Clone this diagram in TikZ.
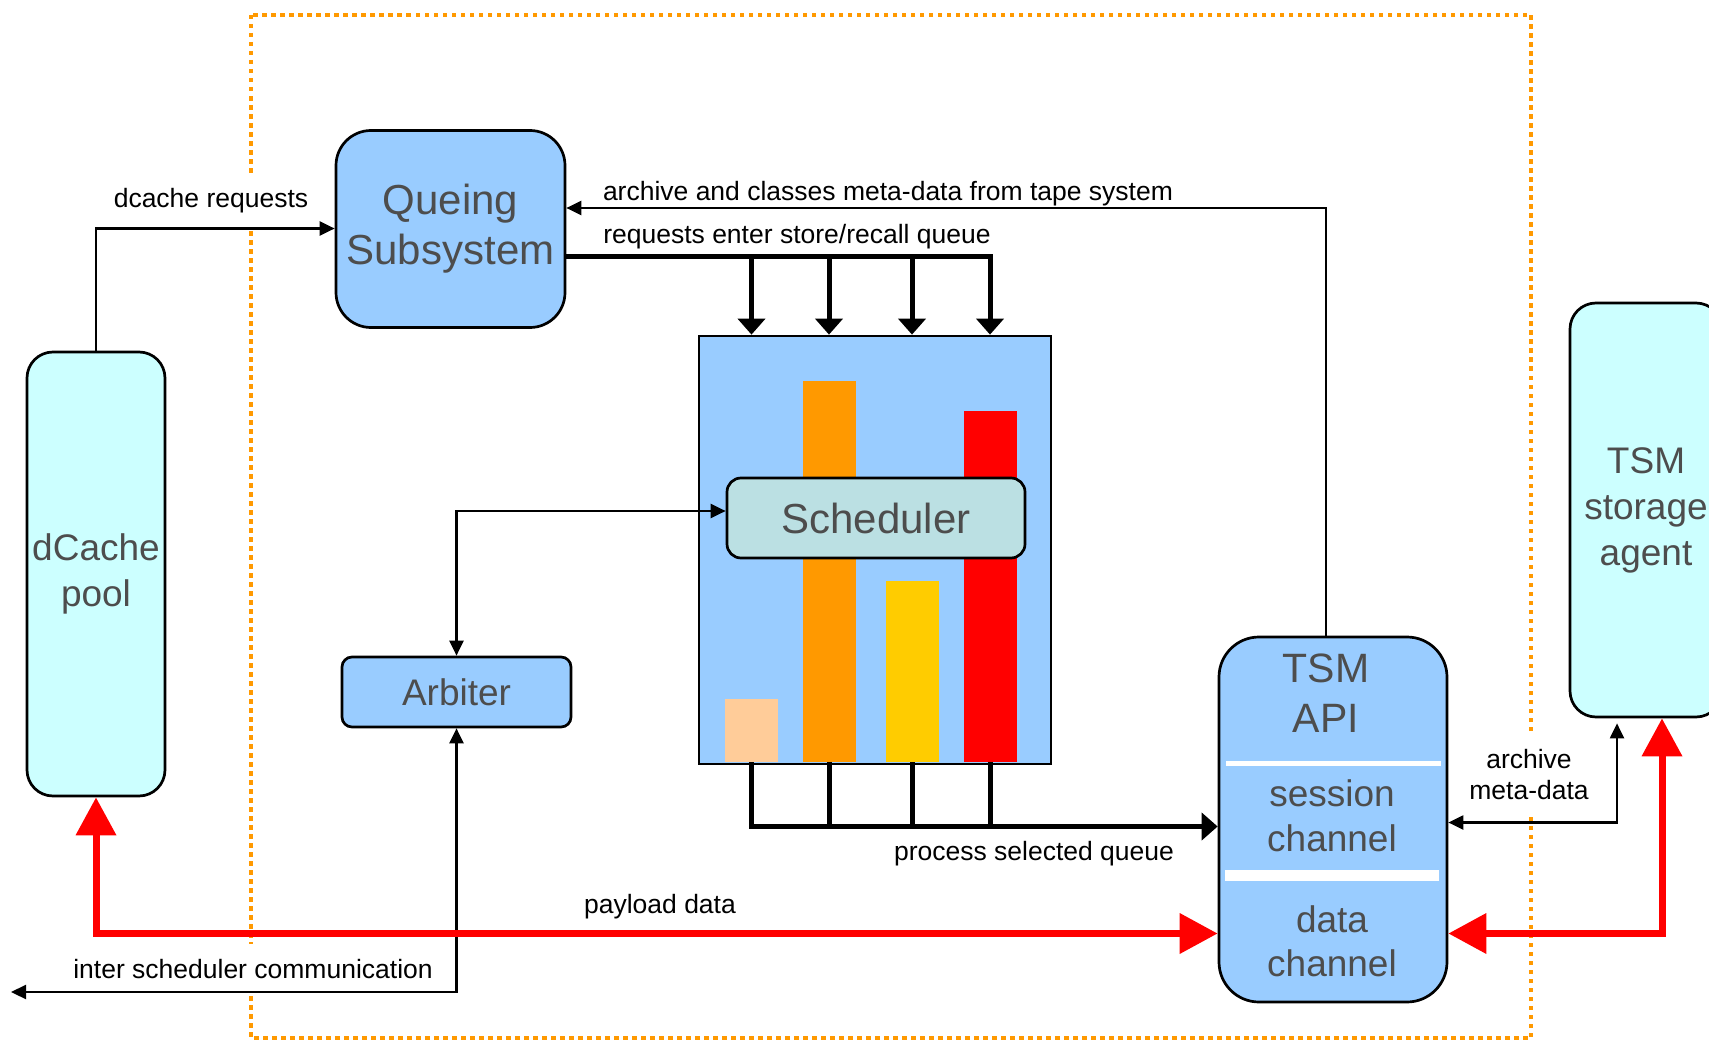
\documentclass[tikz,border=0pt]{standalone}
\usepackage{fontspec}
\setmainfont{Liberation Sans}
\usetikzlibrary{arrows.meta,positioning}
\definecolor{boxblue}{HTML}{99CCFF}
\definecolor{poolcyan}{HTML}{CCFFFF}
\definecolor{schedcyan}{HTML}{BBE0E3}
\definecolor{peach}{HTML}{FFCC99}
\definecolor{amber}{HTML}{FF9900}
\definecolor{gold}{HTML}{FFCC00}
\definecolor{payred}{HTML}{FF0000}
\definecolor{boxtext}{HTML}{4D4D4D}
\newcommand\boxfont{\fontsize{37}{46}\selectfont}
\newcommand\bigboxfont{\fontsize{42}{50}\selectfont}
\newcommand\lblfont{\fontsize{26.5}{31}\selectfont}
\tikzset{
  block/.style={draw, line width=2.7pt, rounded corners=#1, inner sep=0pt, align=center, text=boxtext, font=\boxfont},
  block/.default=20pt,
  boxlabel/.style={align=center, text=boxtext, font=\boxfont},
  bar/.style={inner sep=0pt, minimum width=53pt, anchor=south},
  lbl/.style={font=\lblfont, inner sep=0pt},
  cover/.style={lbl, fill=white, inner xsep=4pt, inner ysep=15pt, align=center},
  flow/.style={line width=2.2pt},
  bus/.style={line width=5pt},
  busarrow/.style={bus, -{Triangle[length=16pt,width=27pt]}},
  payload/.style={line width=7pt, draw=payred, {Triangle[length=38pt,width=39pt]}-{Triangle[length=38pt,width=39pt]}},
  >={Triangle[length=15pt,width=14pt]},
  frame/.style={draw=amber, line width=4.5pt, dash pattern=on 4.5pt off 4.5pt}
}
\begin{document}
\begin{tikzpicture}[x=1pt, y=-1pt]
  \useasboundingbox (0,0) rectangle (1709,1041);
  \draw[frame] (251,15) rectangle (1531,1038);
  \node[cover, anchor=base] (reqlbl) at (211,207) {dcache requests};
  \node[cover, anchor=base] (interlbl) at (253,978) {inter scheduler communication};
  \node[cover] (metalbl) at (1529,775) {archive\\meta-data};

  \node[block=35pt, fill=boxblue, minimum width=229pt, minimum height=197pt, font=\bigboxfont] (queue) at (450.5,229) {Queing\\Subsystem};
  \node[block=26pt, fill=poolcyan, minimum width=138pt, minimum height=444pt] (pool) at (96,574) {dCache\\pool};
  \node[block=26pt, fill=poolcyan, minimum width=152pt, minimum height=414pt] (agent) at (1646,510) {TSM\\storage\\agent};
  \node[draw, line width=2.7pt, fill=boxblue, inner sep=0pt, minimum width=352pt, minimum height=428pt] (sched) at (875,550) {};
  \node[bar, fill=peach, minimum height=63pt] (b1) at (751.5,762) {};
  \node[bar, fill=amber, minimum height=381pt] (b2) at (829,762) {};
  \node[bar, fill=gold, minimum height=181pt] (b3) at (912,762) {};
  \node[bar, fill=payred, minimum height=351pt] (b4) at (990,762) {};
  \node[block=14pt, fill=schedcyan, minimum width=298pt, minimum height=80pt, font=\bigboxfont] (scheduler) at (876,518) {Scheduler};
  \node[block=10pt, fill=boxblue, minimum width=229pt, minimum height=70pt] (arbiter) at (456.5,692) {Arbiter};
  \node[block=40pt, fill=boxblue, minimum width=228pt, minimum height=365pt] (api) at (1333,819.5) {};
  \draw[white, line width=5pt] (1226,763) -- (1441,763);
  \draw[white, line width=11pt] (1225,875) -- (1439,875);
  \node[boxlabel, font=\fontsize{41}{50}\selectfont] (apititle) at (1326,693) {TSM\\API};
  \node[boxlabel, font=\fontsize{37}{45}\selectfont] (session) at (1332,816) {session\\channel};
  \node[boxlabel, font=\fontsize{37}{44}\selectfont] (datach) at (1332,941) {data\\channel};

  \draw[flow, ->] (pool.north) |- ([yshift=0.5pt]queue.west);
  \draw[flow, ->] ([xshift=-7pt]api.north) |- ([yshift=21pt]queue.east);
  \coordinate (feed) at ([yshift=-27pt]queue.east);
  \draw[busarrow] (feed) -| (b4 |- sched.north);
  \foreach \b in {b1,b2,b3}
    \draw[busarrow] (feed -| \b) -- (\b |- sched.north);
  \coordinate (collect) at ([yshift=-7pt]api.west);
  \draw[busarrow] (b1.south) |- (collect);
  \foreach \b in {b2,b3,b4}
    \draw[bus] (\b.south) -- (\b.south |- collect);
  \draw[flow, <->] (arbiter.north) |- ([yshift=7pt]scheduler.west);
  \coordinate (elsewhere) at (11,992);
  \draw[flow, <->] (arbiter.south) |- (elsewhere);
  \draw[payload] (pool.south) |- ([yshift=-114pt]api.west);
  \draw[payload] ([yshift=-114pt]api.east) -| ([xshift=16pt]agent.south);
  \draw[flow, <->] ([xshift=-29pt,yshift=-5pt]agent.south) |- ([yshift=-3pt]api.east);

  \node[lbl, anchor=base] (tapelbl) at (888,200) {archive and classes meta-data from tape system};
  \node[lbl, anchor=base] (queuelbl) at (797,243) {requests enter store/recall queue};
  \node[lbl, anchor=base] (selectlbl) at (1034,860) {process selected queue};
  \node[lbl, anchor=base] (payloadlbl) at (660,913) {payload data};
\end{tikzpicture}
\end{document}
